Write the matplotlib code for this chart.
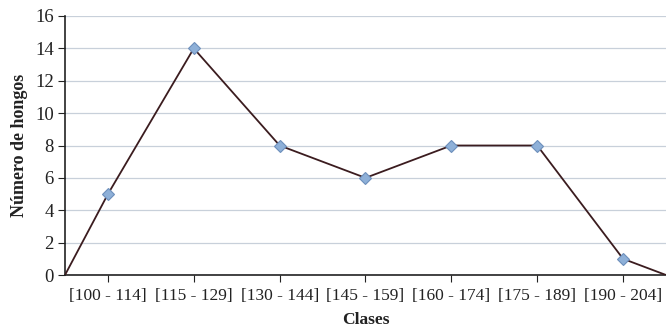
import matplotlib
matplotlib.use("Agg")
import matplotlib.pyplot as plt

clases = ["[100 - 114]", "[115 - 129]", "[130 - 144]", "[145 - 159]",
          "[160 - 174]", "[175 - 189]", "[190 - 204]"]
frecuencias = [5, 14, 8, 6, 8, 8, 1]
y_ticks = [0, 2, 4, 6, 8, 10, 12, 14, 16]

plt.rcParams["font.family"] = ["Liberation Serif", "DejaVu Serif"]

fig = plt.figure(figsize=(6.66, 3.28), dpi=100)
ax = fig.add_axes([65 / 666, 1 - 275 / 328, 1 - 65 / 666, (275 - 16) / 328])

centros = [i + 0.5 for i in range(len(clases))]
# Frequency polygon closed at zero on both ends of the axis
px = [0] + centros + [len(clases)]
py = [0] + frecuencias + [0]
ax.plot(px, py, color="#3b1c1f", lw=1.3, zorder=3)
ax.plot(centros, frecuencias, linestyle="none", marker="D", ms=6,
        markerfacecolor="#8eb0d8", markeredgecolor="#6d8fbb", mew=0.8, zorder=4)

ax.set_xlim(0, len(clases))
ax.set_ylim(0, 16)
ax.set_yticks(y_ticks)
ax.set_xticks(centros)
ax.set_xticklabels(clases)
ax.yaxis.grid(True, color="#c8d0da", lw=0.9)
ax.set_axisbelow(True)

for s in ("top", "right"):
    ax.spines[s].set_visible(False)
for s in ("left", "bottom"):
    ax.spines[s].set_color("#222222")
    ax.spines[s].set_linewidth(1.2)

ax.tick_params(axis="both", direction="out", length=5, color="#222222",
               labelcolor="#222222")
ax.tick_params(axis="x", pad=4, labelsize=12.5)
ax.tick_params(axis="y", pad=3, labelsize=13.5)

ax.set_xlabel("Clases", fontsize=12.5, fontweight="bold", color="#222222", labelpad=6)
ax.set_ylabel("Número de hongos", fontsize=13, fontweight="bold", color="#222222", labelpad=5)

fig.savefig("out.png", dpi=100)
